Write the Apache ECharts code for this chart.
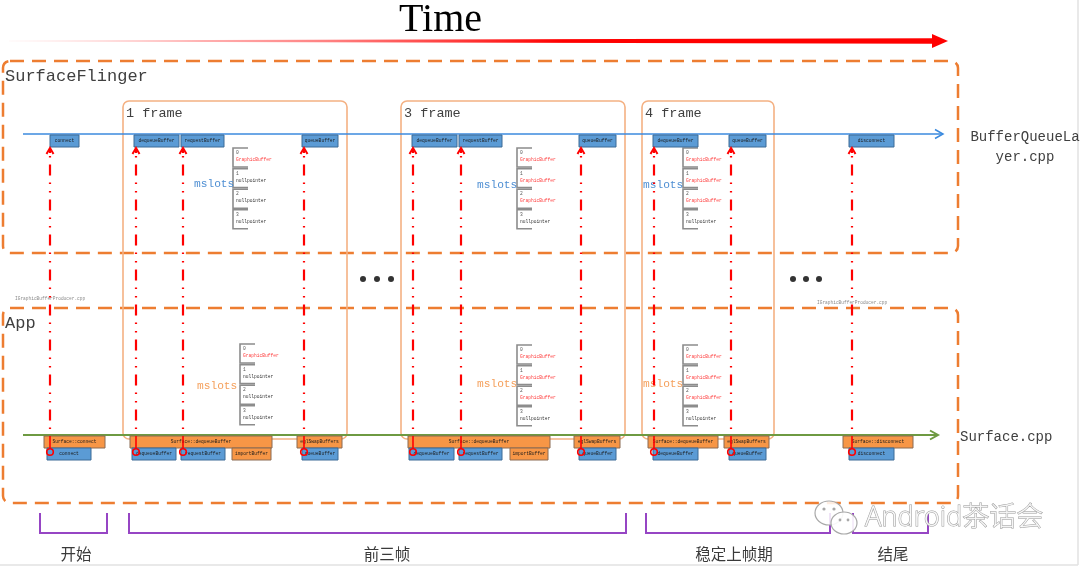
<!DOCTYPE html>
<html><head><meta charset="utf-8">
<script src="https://cdn.jsdelivr.net/npm/echarts@6/dist/echarts.min.js"></script>
<style>html,body{margin:0;padding:0;background:#fff}#c{width:1080px;height:567px}</style>
</head><body><div id="c"></div>
<script>
// ================= DATA =================
const titleText = 'Time';
const timeSpan = [[9, 41, 948]];                       // [start, lane, end]
const containerNames = ['SurfaceFlinger', 'App'];
const containerSpans = [[3, 61, 958, 253], [3, 308, 958, 503]];
const frameNames = ['1 frame', '3 frame', '4 frame'];
const frameSpans = [[123, 101, 347, 439], [401, 101, 625, 439], [642, 101, 774, 439]];
const trackNames = ['BufferQueueLayer.cpp', 'Surface.cpp'];
const trackSpans = [[23, 134, 943], [23, 435, 938]];
const producerCalls = ['connect', 'dequeueBuffer', 'requestBuffer', 'queueBuffer', 'dequeueBuffer', 'requestBuffer', 'queueBuffer', 'dequeueBuffer', 'queueBuffer', 'disconnect'];
const producerSpans = [[50, 79], [134, 179], [181, 224], [302, 338], [412, 457], [459, 502], [579, 616], [653, 698], [729, 766], [849, 894]];
const surfaceCalls = ['Surface::connect', 'Surface::dequeueBuffer', 'eglSwapBuffers', 'Surface::dequeueBuffer', 'eglSwapBuffers', 'Surface::dequeueBuffer', 'eglSwapBuffers', 'Surface::disconnect'];
const surfaceSpans = [[44, 105], [130, 272], [297, 342], [408, 550], [574, 620], [648, 718], [724, 769], [843, 913]];
const clientCalls = ['connect', 'dequeueBuffer', 'requestBuffer', 'importBuffer', 'queueBuffer', 'dequeueBuffer', 'requestBuffer', 'importBuffer', 'queueBuffer', 'dequeueBuffer', 'queueBuffer', 'disconnect'];
const clientSpans = [[47, 91], [132, 176], [181, 225], [232, 271], [302, 338], [409, 454], [459, 502], [510, 548], [579, 616], [653, 698], [729, 766], [849, 894]];
const clientIsLocal = [0, 0, 0, 1, 0, 0, 0, 1, 0, 0, 0, 0];
const binderTimes = [[50], [136], [183], [304], [413], [461], [581], [654], [731], [852]];
const slotIndexLabels = ['0', '1', '2', '3'];
const slotStates = [
  ['GraphicBuffer', 'nullpointer', 'nullpointer', 'nullpointer'],
  ['GraphicBuffer', 'GraphicBuffer', 'GraphicBuffer', 'nullpointer'],
  ['GraphicBuffer', 'GraphicBuffer', 'GraphicBuffer', 'nullpointer']
];
const slotAnchors = [[233, 148, 0], [517, 148, 1], [683, 148, 2], [240, 344, 0], [517, 345, 1], [683, 345, 2]];
const mslotName = 'mslots';
const mslotLabels = [[194, 184, 0], [477, 185, 0], [643, 185, 0], [197, 386, 1], [477, 384, 1], [643, 384, 1]];
const ellipsisPoints = [[363, 279], [377, 279], [391, 279], [793, 279], [806, 279], [819, 279]];
const fileLabelNames = ['IGraphicBufferProducer.cpp', 'IGraphicBufferProducer.cpp'];
const fileLabelPos = [[15, 299], [817, 303]];
const phaseNames = ['开始', '前三帧', '稳定上帧期', '结尾'];
const phaseSpans = [[40, 107], [129, 626], [646, 830], [853, 928]];
const phaseLabelX = [76, 387, 734, 893];
const watermarkText = 'Android茶话会';
const watermarkPos = [[865, 518]];

// ================= STYLE =================
const MONO = '"Liberation Mono", "DejaVu Sans Mono", monospace';
const SERIF = '"Liberation Serif", "DejaVu Serif", serif';
const CJK = '"Noto Sans CJK SC", "Noto Sans", sans-serif';
const RED = '#ff0000';
const BLUE_BOX = '#5b9bd5', BLUE_EDGE = '#3d6a96';
const ORANGE_BOX = '#f79646', ORANGE_EDGE = '#8a6a52';

function txt(text, x, y, o) {
  return { type: 'text', style: Object.assign({ text: text, x: x, y: y, fontFamily: MONO, fontSize: 10, fill: '#333', align: 'left', verticalAlign: 'middle' }, o || {}) };
}
function base(extra) {
  return Object.assign({ type: 'custom', coordinateSystem: 'cartesian2d', clip: false, silent: true, animation: false }, extra);
}
function boxSeries(spans, names, y0, y1, fillFn, z) {
  return base({
    z: z, data: spans,
    renderItem: function (params, api) {
      const a = api.coord([api.value(0), y0]), b = api.coord([api.value(1), y1]);
      const f = fillFn(params.dataIndex);
      return { type: 'group', children: [
        { type: 'rect', shape: { x: a[0], y: a[1], width: b[0] - a[0], height: b[1] - a[1] }, style: { fill: f[0], stroke: f[1], lineWidth: 1 } },
        txt(names[params.dataIndex], (a[0] + b[0]) / 2, (a[1] + b[1]) / 2, { fontSize: 4.6, fill: '#1b1b1b', align: 'center' })
      ] };
    }
  });
}

const series = [];
// containers (dashed)
series.push(base({
  z: 1, data: containerSpans,
  renderItem: function (params, api) {
    const a = api.coord([api.value(0), api.value(1)]), b = api.coord([api.value(2), api.value(3)]);
    return { type: 'group', children: [
      { type: 'rect', shape: { x: a[0], y: a[1], width: b[0] - a[0], height: b[1] - a[1], r: 7 }, style: { fill: 'none', stroke: '#ed7d31', lineWidth: 2.5, lineDash: [14, 8] } },
      txt(containerNames[params.dataIndex], a[0] + 2, a[1] + 15, { fontSize: 17, fill: '#404040' })
    ] };
  }
}));
// frames
series.push(base({
  z: 2, data: frameSpans,
  renderItem: function (params, api) {
    const a = api.coord([api.value(0), api.value(1)]), b = api.coord([api.value(2), api.value(3)]);
    return { type: 'group', children: [
      { type: 'rect', shape: { x: a[0], y: a[1], width: b[0] - a[0], height: b[1] - a[1], r: 6 }, style: { fill: 'none', stroke: '#f4b183', lineWidth: 1.6 } },
      txt(frameNames[params.dataIndex], a[0] + 3, a[1] + 12, { fontSize: 13.5, fill: '#404040' })
    ] };
  }
}));
// slot lists
series.push(base({
  z: 3, data: slotAnchors,
  renderItem: function (params, api) {
    const a = api.coord([api.value(0), api.value(1)]);
    const states = slotStates[api.value(2)];
    const kids = [];
    for (let i = 0; i < 4; i++) {
      const y = a[1] + i * 20.6, x = a[0], h = 19;
      kids.push({ type: 'polyline', shape: { points: [[x + 15, y], [x, y], [x, y + h], [x + 15, y + h]] }, style: { stroke: '#8c8c8c', lineWidth: 1.6, fill: null } });
      kids.push(txt(slotIndexLabels[i], x + 3, y + 5, { fontSize: 4.6, fill: '#555' }));
      kids.push(txt(states[i], x + 3, y + 12, { fontSize: 4.6, fill: states[i] === 'GraphicBuffer' ? '#ff3b3b' : '#333' }));
    }
    return { type: 'group', children: kids };
  }
}));
// mslots labels
series.push(base({
  z: 4, data: mslotLabels,
  renderItem: function (params, api) {
    const a = api.coord([api.value(0), api.value(1)]);
    return txt(mslotName, a[0], a[1], { fontSize: 11.2, fill: api.value(2) === 0 ? '#4f8fd3' : '#f5a05c' });
  }
}));
// file labels
series.push(base({
  z: 4, data: fileLabelPos,
  renderItem: function (params, api) {
    const a = api.coord([api.value(0), api.value(1)]);
    return txt(fileLabelNames[params.dataIndex], a[0], a[1], { fontSize: 4.5, fill: '#8a8a8a' });
  }
}));
// ellipsis dots
series.push({ type: 'scatter', z: 4, silent: true, animation: false, symbol: 'circle', symbolSize: 6, itemStyle: { color: '#000' }, data: ellipsisPoints });
// track lines
series.push(base({
  z: 5, data: trackSpans,
  renderItem: function (params, api) {
    const a = api.coord([api.value(0), api.value(1)]), b = api.coord([api.value(2), api.value(1)]);
    const col = params.dataIndex === 0 ? '#3b8ade' : '#6e9a42';
    const lw = params.dataIndex === 0 ? 1.5 : 2;
    const kids = [
      { type: 'line', shape: { x1: a[0], y1: a[1], x2: b[0], y2: b[1] }, style: { stroke: col, lineWidth: lw } },
      { type: 'polyline', shape: { points: [[b[0] - 8, b[1] - 4.5], [b[0], b[1]], [b[0] - 8, b[1] + 4.5]] }, style: { stroke: col, lineWidth: lw, fill: null } }
    ];
    const name = trackNames[params.dataIndex];
    if (params.dataIndex === 0) {
      const lines = name.match(/.{1,13}/g);
      lines.forEach(function (ln, i) { kids.push(txt(ln, 1025, a[1] + 3 + i * 20, { fontSize: 14, fill: '#404040', align: 'center' })); });
    } else {
      kids.push(txt(name, 960, a[1] + 2, { fontSize: 14, fill: '#404040' }));
    }
    return { type: 'group', children: kids };
  }
}));
// call boxes
series.push(boxSeries(producerSpans, producerCalls, 135, 147, function () { return [BLUE_BOX, BLUE_EDGE]; }, 6));
series.push(boxSeries(surfaceSpans, surfaceCalls, 436, 448, function () { return [ORANGE_BOX, ORANGE_EDGE]; }, 6));
series.push(boxSeries(clientSpans, clientCalls, 448, 460, function (i) { return clientIsLocal[i] ? [ORANGE_BOX, ORANGE_EDGE] : [BLUE_BOX, BLUE_EDGE]; }, 6));
// binder calls (red dash-dot-dot)
series.push(base({
  z: 7, data: binderTimes,
  renderItem: function (params, api) {
    const x = api.value(0);
    const top = api.coord([x, 148]), dEnd = api.coord([x, 436]), cir = api.coord([x, 452]);
    const X = top[0];
    return { type: 'group', children: [
      { type: 'polyline', shape: { points: [[X - 3.5, top[1] + 6], [X, top[1]], [X + 3.5, top[1] + 6]] }, style: { stroke: RED, lineWidth: 2, fill: null } },
      { type: 'line', shape: { x1: X, y1: top[1], x2: X, y2: top[1] + 5 }, style: { stroke: RED, lineWidth: 2 } },
      { type: 'line', shape: { x1: X, y1: top[1] + 8, x2: X, y2: dEnd[1] }, style: { stroke: RED, lineWidth: 2.2, lineDash: [1.5, 7, 11, 7, 1.5, 7] } },
      { type: 'line', shape: { x1: X, y1: dEnd[1], x2: X, y2: cir[1] - 3.3 }, style: { stroke: RED, lineWidth: 1.6 } },
      { type: 'circle', shape: { cx: X, cy: cir[1], r: 3.3 }, style: { stroke: RED, lineWidth: 1.6, fill: 'none' } }
    ] };
  }
}));
// time arrow
series.push(base({
  z: 8, data: timeSpan,
  renderItem: function (params, api) {
    const a = api.coord([api.value(0), api.value(1)]), b = api.coord([api.value(2), api.value(1)]);
    const hx = b[0] - 16;
    return { type: 'group', children: [
      { type: 'polygon', shape: { points: [[a[0], a[1] - 0.5], [hx, a[1] - 2.7], [hx, a[1] + 2.7], [a[0], a[1] + 0.5]] },
        style: { fill: new echarts.graphic.LinearGradient(0, 0, 1, 0, [{ offset: 0, color: 'rgba(255,0,0,0.03)' }, { offset: 0.35, color: 'rgba(255,0,0,0.5)' }, { offset: 0.6, color: '#ff0000' }, { offset: 1, color: '#ff0000' }]) } },
      { type: 'polygon', shape: { points: [[hx, a[1] - 7], [b[0], a[1]], [hx, a[1] + 7]] }, style: { fill: '#ff0000' } }
    ] };
  }
}));
// phase brackets
series.push(base({
  z: 8, data: phaseSpans,
  renderItem: function (params, api) {
    const a = api.coord([api.value(0), 513]), b = api.coord([api.value(1), 533]);
    const lx = api.coord([phaseLabelX[params.dataIndex], 554]);
    return { type: 'group', children: [
      { type: 'polyline', shape: { points: [[a[0], a[1]], [a[0], b[1]], [b[0], b[1]], [b[0], a[1]]] }, style: { stroke: '#9645c4', lineWidth: 2, fill: null } },
      txt(phaseNames[params.dataIndex], lx[0], lx[1], { fontFamily: CJK, fontSize: 15.5, fill: '#3a3a3a', align: 'center' })
    ] };
  }
}));
// watermark
series.push(base({
  z: 9, data: watermarkPos,
  renderItem: function (params, api) {
    const a = api.coord([api.value(0), api.value(1)]);
    const g = '#a8a8a8';
    return { type: 'group', children: [
      { type: 'ellipse', shape: { cx: a[0] - 36, cy: a[1] - 5, rx: 14, ry: 12 }, style: { fill: 'rgba(255,255,255,0.85)', stroke: g, lineWidth: 1.2 } },
      { type: 'circle', shape: { cx: a[0] - 41, cy: a[1] - 9, r: 1.6 }, style: { fill: g } },
      { type: 'circle', shape: { cx: a[0] - 31, cy: a[1] - 9, r: 1.6 }, style: { fill: g } },
      { type: 'ellipse', shape: { cx: a[0] - 21, cy: a[1] + 5, rx: 13, ry: 11 }, style: { fill: 'rgba(255,255,255,0.9)', stroke: g, lineWidth: 1.2 } },
      { type: 'circle', shape: { cx: a[0] - 25, cy: a[1] + 2, r: 1.4 }, style: { fill: g } },
      { type: 'circle', shape: { cx: a[0] - 17, cy: a[1] + 2, r: 1.4 }, style: { fill: g } },
      txt(watermarkText, a[0], a[1], { fontFamily: '"Noto Sans", "Noto Sans CJK SC", sans-serif', fontSize: 27, fontWeight: 300, fill: 'rgba(255,255,255,0.85)', stroke: '#9a9a9a', lineWidth: 1 })
    ] };
  }
}));

const chart = echarts.init(document.getElementById('c'), null, { renderer: 'canvas' });
chart.setOption({
  animation: false,
  backgroundColor: '#ffffff',
  title: { text: titleText, left: 399, top: 0, padding: 0, textStyle: { fontFamily: SERIF, fontSize: 40, fontWeight: 'normal', color: '#000' } },
  grid: { left: 0, right: 0, top: 0, bottom: 0, containLabel: false },
  xAxis: { type: 'value', min: 0, max: 1080, show: false },
  yAxis: { type: 'value', min: 0, max: 567, inverse: true, show: false },
  graphic: [
    { type: 'line', shape: { x1: 1078, y1: 0, x2: 1078, y2: 565 }, style: { stroke: '#e2e2e2', lineWidth: 1.5 }, silent: true },
    { type: 'line', shape: { x1: 0, y1: 565, x2: 1078, y2: 565 }, style: { stroke: '#e2e2e2', lineWidth: 1.5 }, silent: true }
  ],
  series: series
});
</script>
</body></html>
